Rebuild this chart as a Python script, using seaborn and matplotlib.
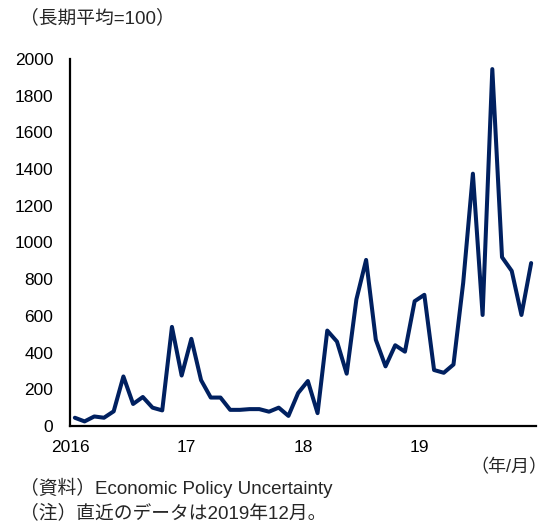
import numpy as np
import pandas as pd
import matplotlib
matplotlib.use("Agg")
import matplotlib.pyplot as plt
import seaborn as sns

# Monthly index, Jan 2016 - Dec 2019 (long-run average = 100)
months = pd.period_range("2016-01", "2019-12", freq="M").astype(str).tolist()
epu = [
    45, 25, 52, 45, 80, 270, 120, 158, 100, 85, 540, 275,
    475, 250, 155, 155, 88, 88, 92, 92, 78, 100, 55, 180,
    245, 70, 520, 460, 285, 690, 905, 470, 325, 440, 405, 680,
    715, 305, 290, 335, 780, 1375, 605, 1945, 920, 845, 605, 888,
]
year_ticks = [0, 12, 24, 36, 48]
year_labels = ["2016", "17", "18", "19", ""]

sns.set_theme(style="white")
plt.rcParams["font.family"] = ["Liberation Sans", "Noto Sans CJK JP", "DejaVu Sans"]

df = pd.DataFrame({"month": months, "epu": epu})
df["pos"] = np.arange(len(df)) + 0.5

fig = plt.figure(figsize=(5.47, 5.25), dpi=100)
ax = fig.add_axes([70 / 547, 1 - 426 / 525, (536 - 70) / 547, (426 - 59) / 525])

sns.lineplot(data=df, x="pos", y="epu", ax=ax, color="#002060", linewidth=2.9)

ax.set_xlim(0, 48)
ax.set_ylim(0, 2000)
ax.set_yticks(np.arange(0, 2001, 200))
ax.set_xticks(year_ticks)
ax.set_xticklabels(year_labels)
ax.set_xlabel("")
ax.set_ylabel("")

for side in ("top", "right"):
    ax.spines[side].set_visible(False)
for side in ("left", "bottom"):
    ax.spines[side].set_color("black")
    ax.spines[side].set_linewidth(1.6)

ax.tick_params(axis="both", direction="in", length=5, width=1.6, color="black",
               labelsize=12.5, labelcolor="black")
ax.tick_params(axis="y", pad=12)
ax.tick_params(axis="x", pad=10)
ax.grid(False)

fig.text(20 / 547, 1 - 18 / 525, "（長期平均=100）", fontsize=13.5, va="center", ha="left")
fig.text(547 / 547, 1 - 468 / 525, "（年/月）", fontsize=13, va="center", ha="right")
fig.text(20 / 547, 1 - 488 / 525, "（資料）Economic Policy Uncertainty", fontsize=13.5,
         va="center", ha="left")
fig.text(20 / 547, 1 - 513 / 525, "（注）直近のデータは2019年12月。", fontsize=13.5,
         va="center", ha="left")

fig.savefig("out.png", dpi=100)
